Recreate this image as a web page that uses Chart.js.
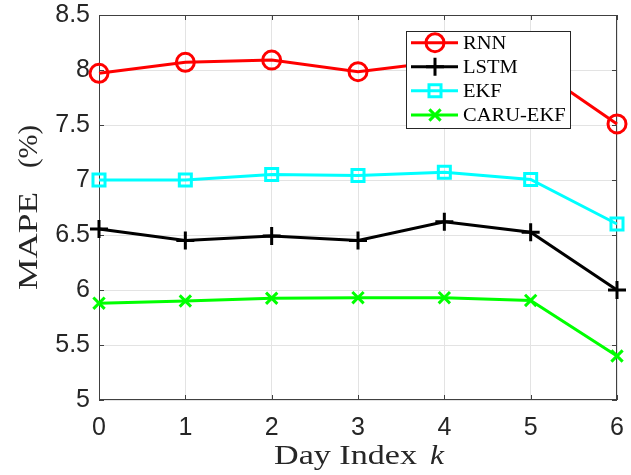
<!DOCTYPE html>
<html>
<head>
<meta charset="utf-8">
<script src="https://cdn.jsdelivr.net/npm/chart.js@4"></script>
<style>
html,body{margin:0;padding:0;background:#fff}
#wrap{width:631px;height:475px}
</style>
</head>
<body>
<div id="wrap"><canvas id="c" width="631" height="475"></canvas></div>
<script>
// values
var days = [0, 1, 2, 3, 4, 5, 6]
var rnn = [7.97, 8.07, 8.09, 7.985, 8.08, 8.05, 7.51]
var lstm = [6.555, 6.45, 6.49, 6.45, 6.62, 6.525, 6.0]
var ekf = [7.0, 7.0, 7.05, 7.04, 7.07, 7.005, 6.6]
var caru = [5.88, 5.9, 5.925, 5.93, 5.93, 5.905, 5.4]
var names = ['RNN', 'LSTM', 'EKF', 'CARU-EKF']
var colors = ['#ff0000', '#000000', '#00ffff', '#00ff00']
var markers = ['circle', 'cross', 'rect', 'crossRot']
var markerSize = [9, 9, 8.5, 8]
var yTicks = [5, 5.5, 6, 6.5, 7, 7.5, 8, 8.5]

var series = [rnn, lstm, ekf, caru]
var axisCol = '#404040'
var txtCol = '#262626'

function pts(arr) { return days.map((d, i) => ({ x: d, y: arr[i] })) }

// draw text squeezed/stretched to a given width (LaTeX fonts run wide)
function textW(ctx, s, x, y, w) {
    var m = ctx.measureText(s).width
    ctx.save()
    ctx.translate(x, y)
    ctx.scale(w / m, 1)
    ctx.fillText(s, 0, 0)
    ctx.restore()
}

var datasets = series.map((s, i) => ({
    label: names[i],
    data: pts(s),
    borderColor: colors[i],
    backgroundColor: 'rgba(0,0,0,0)',
    pointBackgroundColor: 'rgba(0,0,0,0)',
    pointBorderColor: colors[i],
    pointStyle: markers[i],
    pointRadius: markerSize[i],
    pointBorderWidth: 3,
    borderWidth: 3,
    tension: 0,
    clip: false
}))

var deco = {
    id: 'deco',
    beforeDatasetsDraw(ch) {
        var ctx = ch.ctx, a = ch.chartArea
        var xs = ch.scales.x, ys = ch.scales.y
        ctx.save()
        ctx.strokeStyle = axisCol
        ctx.lineWidth = 1
        ctx.strokeRect(a.left + 0.5, a.top + 0.5, a.right - a.left - 1, a.bottom - a.top - 1)
        ctx.beginPath()
        days.forEach(d => {
            var px = Math.round(xs.getPixelForValue(d)) + 0.5
            ctx.moveTo(px, a.bottom); ctx.lineTo(px, a.bottom - 5)
            ctx.moveTo(px, a.top); ctx.lineTo(px, a.top + 5)
        })
        yTicks.forEach(v => {
            var py = Math.round(ys.getPixelForValue(v)) + 0.5
            ctx.moveTo(a.left, py); ctx.lineTo(a.left + 5, py)
            ctx.moveTo(a.right, py); ctx.lineTo(a.right - 5, py)
        })
        ctx.stroke()
        ctx.restore()
    },
    afterDraw(ch) {
        var ctx = ch.ctx
        ctx.save()
        // axis titles
        ctx.fillStyle = txtCol
        ctx.textBaseline = 'alphabetic'
        ctx.textAlign = 'left'
        var f1 = '27px "Liberation Serif"'
        var f2 = 'italic 27px "Liberation Serif"'
        ctx.font = f1
        textW(ctx, 'Day Index', 274, 464, 143)
        ctx.font = f2
        textW(ctx, 'k', 430, 464, 14)

        ctx.translate(37, 0)
        ctx.rotate(-Math.PI / 2)
        ctx.font = '27px "Liberation Serif"'
        textW(ctx, 'MAPE', -290, 0, 98)
        textW(ctx, '(%)', -168, 0, 43)
        ctx.restore()

        // legend
        ctx.save()
        var lx = 406, ly = 31, lw = 164, lh = 97
        ctx.fillStyle = '#fff'
        ctx.fillRect(lx, ly, lw, lh)
        ctx.strokeStyle = '#262626'
        ctx.lineWidth = 1
        ctx.strokeRect(lx + 0.5, ly + 0.5, lw, lh)
        var rows = [42.7, 66.7, 90.7, 115]
        ch.data.datasets.forEach((ds, i) => {
            var y = rows[i]
            ctx.strokeStyle = ds.borderColor
            ctx.lineWidth = 3
            ctx.beginPath()
            ctx.moveTo(411, y); ctx.lineTo(458, y)
            ctx.stroke()
            ctx.fillStyle = 'rgba(0,0,0,0)'
            Chart.helpers.drawPoint(ctx, { pointStyle: ds.pointStyle, radius: ds.pointRadius, rotation: 0, borderWidth: 3 }, 435, y)
            ctx.fillStyle = '#000'
            ctx.font = '19px "Liberation Serif"'
            ctx.textBaseline = 'alphabetic'
            var m = ctx.measureText(ds.label).width
            textW(ctx, ds.label, 463, y + 6, m * 1.08)
        })
        ctx.restore()
    }
}

function noPad(s) { s.paddingTop = 0; s.paddingBottom = 0; s.paddingLeft = 0; s.paddingRight = 0 }

new Chart(document.getElementById('c'), {
    type: 'line',
    data: { datasets: datasets },
    options: {
        responsive: false,
        animation: false,
        devicePixelRatio: 1,
        layout: { padding: { top: 15, right: 14, left: 0, bottom: 0 } },
        plugins: { legend: { display: false }, tooltip: { enabled: false } },
        scales: {
            x: {
                type: 'linear', min: 0, max: 6,
                ticks: { stepSize: 1, padding: 13, color: txtCol, font: { family: 'Liberation Sans', size: 25 } },
                grid: { color: '#e3e3e3', drawTicks: false },
                border: { display: false },
                afterFit: s => { s.height = 75; noPad(s) }
            },
            y: {
                type: 'linear', min: 5, max: 8.5,
                afterBuildTicks: s => { s.ticks = yTicks.map(v => ({ value: v })) },
                ticks: { padding: 9, color: txtCol, font: { family: 'Liberation Sans', size: 25 }, callback: v => String(v) },
                grid: { color: '#e3e3e3', drawTicks: false },
                border: { display: false },
                afterFit: s => { s.width = 99; noPad(s) }
            }
        }
    },
    plugins: [deco]
})
</script>
</body>
</html>
